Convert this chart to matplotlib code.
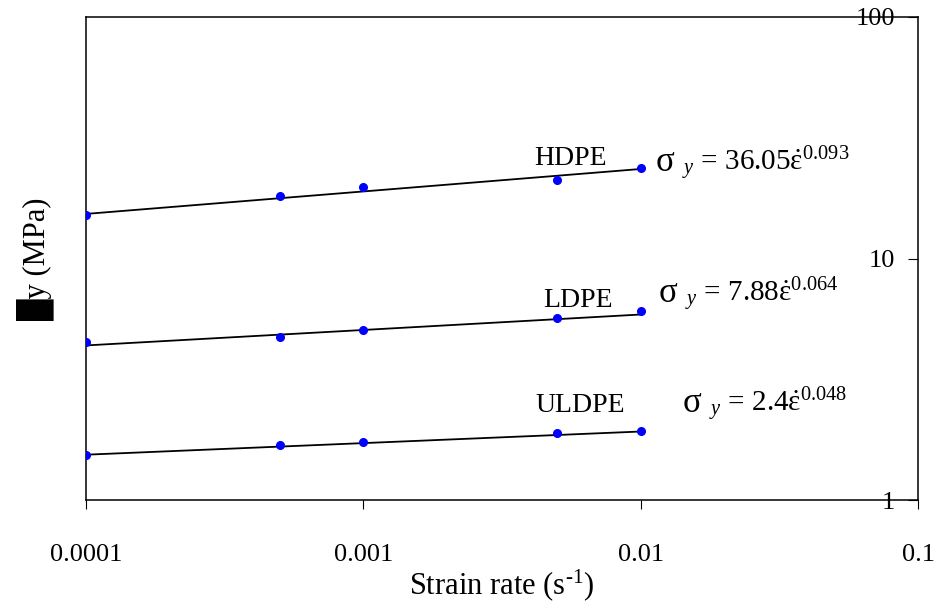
import numpy as np
import matplotlib
matplotlib.use('Agg')
import matplotlib.pyplot as plt

# Datos
strain_rate = [0.0001, 0.0005, 0.001, 0.005, 0.01]
hdpe = [15.1, 18.2, 19.8, 21.1, 23.7]
ldpe = [4.51, 4.73, 5.06, 5.67, 6.06]
uldpe = [1.535, 1.69, 1.74, 1.89, 1.93]

names = ['HDPE', 'LDPE', 'ULDPE']
coefs = [36.05, 7.88, 2.4]
exps = [0.093, 0.064, 0.048]
exp_labels = ['0.093', '0.064', '0.048']
coef_labels = ['36.05', '7.88', '2.4']

x_ticks = [0.0001, 0.001, 0.01, 0.1]
x_ticklabels = ['0.0001', '0.001', '0.01', '0.1']
y_ticks = [1, 10, 100]
y_ticklabels = ['1', '10', '100']

plt.rcParams['font.family'] = ['Liberation Serif', 'DejaVu Sans']
plt.rcParams['mathtext.fontset'] = 'custom'
plt.rcParams['mathtext.rm'] = 'Liberation Serif'
plt.rcParams['mathtext.it'] = 'Liberation Serif:italic'
plt.rcParams['mathtext.bf'] = 'Liberation Serif:bold'

fig = plt.figure(figsize=(9.35, 6.07), dpi=100)
ax = fig.add_axes([0.092, 0.176, 0.890, 0.796])
ax.set_xscale('log')
ax.set_yscale('log')

# posiciones de las etiquetas (offset en puntos desde el ultimo punto)
name_off = [(-77, 2), (-70, 3), (-76, 14)]
sig_off = [(11, -2), (13, 6.5), (30, 14)]

for i, serie in enumerate([hdpe, ldpe, uldpe]):
    # linea de tendencia potencial (muestreo lineal como Excel)
    xt = np.linspace(strain_rate[0], strain_rate[-1], 40)
    ax.plot(xt, coefs[i] * xt ** exps[i], color='black', lw=1.3, zorder=2)
    ax.plot(strain_rate, serie, 'o', color='#0000ff', ms=5.5, zorder=3)
    ax.annotate(names[i], xy=(strain_rate[-1], serie[-1]), xytext=name_off[i],
                textcoords='offset points', fontsize=20, ha='left', va='baseline')
    # sigma grande + resto de la ecuacion
    ax.annotate('σ', xy=(strain_rate[-1], serie[-1]), xytext=sig_off[i],
                textcoords='offset points', fontsize=25, ha='left', va='baseline')
    eq = '$_y$ = ' + coef_labels[i] + r'$\dot{\mathrm{ε}}^{' + exp_labels[i] + '}$'
    ax.annotate(eq, xy=(strain_rate[-1], serie[-1]),
                xytext=(sig_off[i][0] + 19, sig_off[i][1]),
                textcoords='offset points', fontsize=21, ha='left', va='baseline')

ax.set_xlim(0.0001, 0.1)
ax.set_ylim(1, 100)
ax.set_xticks(x_ticks)
ax.set_xticklabels(x_ticklabels)
ax.xaxis.set_minor_locator(matplotlib.ticker.NullLocator())
ax.yaxis.set_minor_locator(matplotlib.ticker.NullLocator())
ax.yaxis.tick_right()
ax.set_yticks(y_ticks)
ax.set_yticklabels(y_ticklabels, ha='right')
ax.tick_params(axis='x', direction='out', length=6.5, width=0.8, labelsize=19, pad=25)
ax.tick_params(axis='y', direction='in', length=7, width=0.8, labelsize=19, pad=-16.5)

for s in ax.spines.values():
    s.set_linewidth(1.1)

ax.set_xlabel('Strain rate (s$^{‐1}$)', fontsize=22, labelpad=1)
ax.set_ylabel('█y (MPa)', fontsize=22, labelpad=23)

fig.savefig('out.png', dpi=100)
